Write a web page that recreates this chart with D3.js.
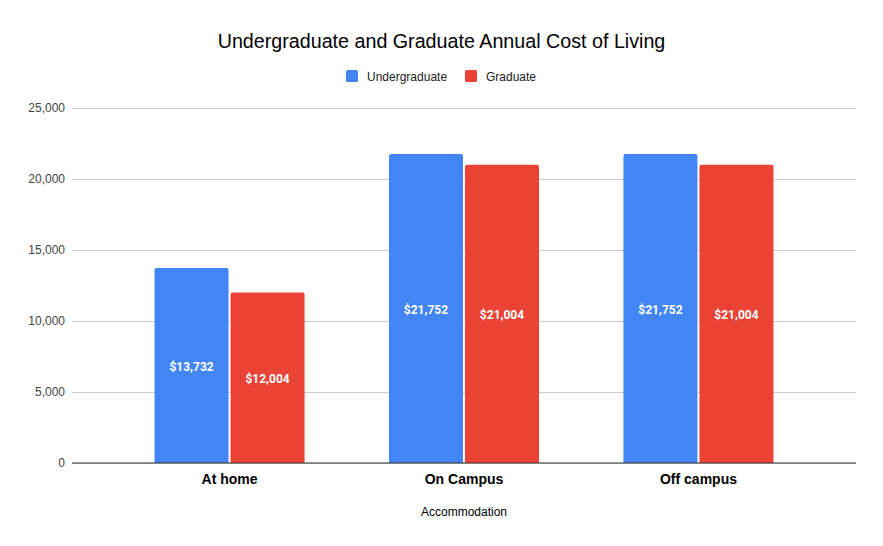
<!DOCTYPE html>
<html>
<head>
<meta charset="utf-8">
<script src="https://cdn.jsdelivr.net/npm/d3@7"></script>
<style>
  body { margin: 0; background: #fff; }
  svg { display: block; }
</style>
</head>
<body>
<div id="viz"></div>
<script>
// chart data
var categories = ["At home", "On Campus", "Off campus"];
var seriesNames = ["Undergraduate", "Graduate"];
var undergraduate = [13732, 21752, 21752];
var graduate = [12004, 21004, 21004];
var yTicks = [0, 5000, 10000, 15000, 20000, 25000];

var colors = ["#4285f4", "#ea4335"];
var W = 883, H = 546;
// note: can't call it "top", window.top is read-only
var plotLeft = 72, plotRight = 856, plotTop = 108, plotBottom = 463;

var svg = d3.select('#viz').append('svg').attr('width', W).attr('height', H);

var y = d3.scaleLinear().domain([0, 25000]).range([plotBottom, plotTop]);
var x0 = d3.scaleBand().domain(categories).range([plotLeft, plotRight])
  .paddingInner(0.36).paddingOuter(0.352);
var x1 = d3.scaleBand().domain(seriesNames).range([0, x0.bandwidth()]).paddingInner(0.0263);

// title
svg.append('text')
  .attr('x', W / 2).attr('y', 48)
  .attr('text-anchor', 'middle')
  .style('font-family', 'Arial, "Liberation Sans", sans-serif')
  .style('font-size', '19.7px')
  .attr('fill', '#000')
  .text('Undergraduate and Graduate Annual Cost of Living');

// legend
var legend = svg.append('g');
var legendPos = [346, 465];
seriesNames.forEach(function(name, i) {
  var g = legend.append('g').attr('transform', 'translate(' + legendPos[i] + ',70)');
  g.append('rect').attr('width', 12).attr('height', 12).attr('rx', 1.5).attr('fill', colors[i]);
  g.append('text').attr('x', 21).attr('y', 10.5)
    .style('font-family', 'Arial, "Liberation Sans", sans-serif')
    .style('font-size', '12px').attr('fill', '#222').text(name);
});

// y axis with gridlines
var yAxis = d3.axisLeft(y).tickValues(yTicks).tickSize(-(plotRight - plotLeft)).tickFormat(d3.format(','));
var gy = svg.append('g').attr('transform', 'translate(' + plotLeft + ',0)').call(yAxis);
gy.select('.domain').remove();
gy.selectAll('.tick line').attr('stroke', '#cccccc');
gy.selectAll('.tick text')
  .attr('x', -7)
  .style('font-family', 'Arial, "Liberation Sans", sans-serif')
  .style('font-size', '12px').attr('fill', '#444');

// bars
var rows = categories.map(function(c, i) {
  return { cat: c, vals: [undergraduate[i], graduate[i]] };
});
var groups = svg.append('g').selectAll('g').data(rows).enter().append('g')
  .attr('transform', function(d) { return 'translate(' + x0(d.cat) + ',0)'; });

groups.selectAll('path').data(function(d) {
  return d.vals.map(function(v, i) { return { name: seriesNames[i], v: v, i: i }; });
}).enter().append('path')
  .attr('fill', function(d) { return colors[d.i]; })
  .attr('d', function(d) {
    var bx = x1(d.name), bw = x1.bandwidth(), by = y(d.v), r = 2;
    return 'M' + bx + ',' + plotBottom + 'V' + (by + r) + 'Q' + bx + ',' + by + ' ' + (bx + r) + ',' + by +
      'H' + (bx + bw - r) + 'Q' + (bx + bw) + ',' + by + ' ' + (bx + bw) + ',' + (by + r) + 'V' + plotBottom + 'Z';
  });

groups.selectAll('text').data(function(d) {
  return d.vals.map(function(v, i) { return { name: seriesNames[i], v: v, i: i }; });
}).enter().append('text')
  .attr('x', function(d) { return x1(d.name) + x1.bandwidth() / 2; })
  .attr('y', function(d) { return (y(d.v) + plotBottom) / 2 + 5.5; })
  .attr('text-anchor', 'middle')
  .style('font-family', 'Roboto, sans-serif')
  .style('font-size', '12px').style('font-weight', 'bold')
  .attr('fill', '#fff')
  .text(function(d) { return '$' + d3.format(',')(d.v); });

// baseline
svg.append('line').attr('x1', plotLeft).attr('x2', plotRight).attr('y1', plotBottom).attr('y2', plotBottom)
  .attr('stroke', '#333').attr('stroke-width', 1);

// x labels
var xAxis = d3.axisBottom(x0).tickSize(0);
var gx = svg.append('g').attr('transform', 'translate(0,' + plotBottom + ')').call(xAxis);
gx.select('.domain').remove();
gx.selectAll('.tick text')
  .attr('dy', 0).attr('y', 21)
  .style('font-family', 'Arial, "Liberation Sans", sans-serif')
  .style('font-size', '14px').style('font-weight', 'bold').attr('fill', '#000');

// axis title
svg.append('text')
  .attr('x', (plotLeft + plotRight) / 2).attr('y', 516)
  .attr('text-anchor', 'middle')
  .style('font-family', 'Arial, "Liberation Sans", sans-serif')
  .style('font-size', '12px').attr('fill', '#000')
  .text('Accommodation');
</script>
</body>
</html>
